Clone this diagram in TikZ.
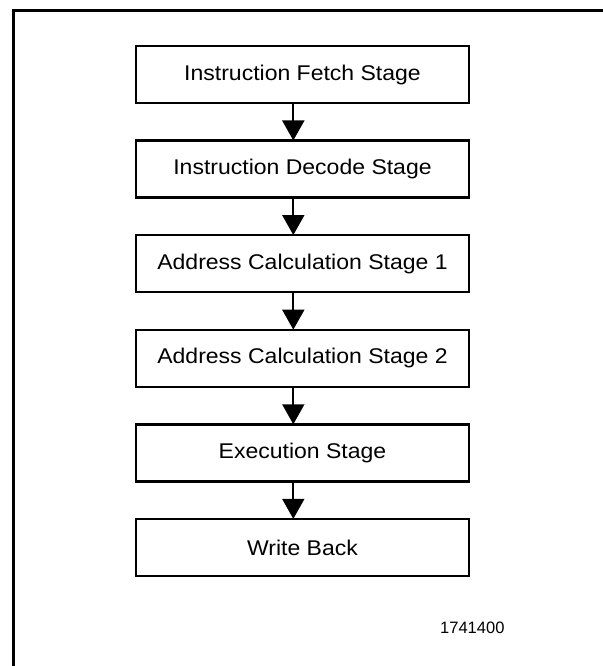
\documentclass[tikz,border=0pt]{standalone}
\usepackage{fontspec}
\setmainfont{Liberation Sans}
\newfontfamily\labfont[FakeStretch=1.08]{Liberation Sans}
\usetikzlibrary{arrows.meta}
\tikzset{
  stagebox/.style={draw=black, line width=2.3bp, minimum width=333bp, minimum height=57bp,
    inner sep=0pt, font=\labfont\fontsize{21.3bp}{24bp}\selectfont},
  flowarrow/.style={line width=2bp, -{Triangle[width=22bp,length=20bp]}, shorten >=-1bp},
  frameline/.style={line width=3bp, black}
}
\begin{document}
\begin{tikzpicture}[x=1bp,y=-1bp]
\useasboundingbox (0,0) rectangle (603,666);
\fill[white] (0,0) rectangle (603,666);
\coordinate (fbl) at (13.5,680);
\coordinate (ftl) at (13.5,10.7);
\coordinate (ftr) at (620,10.7);
\draw[frameline] (fbl) -- (ftl) -- (ftr);
\node[stagebox] (s1) at (302.5,74.5) {Instruction Fetch Stage};
\node[stagebox] (s2) at (302.5,169.1) {Instruction Decode Stage};
\node[stagebox] (s3) at (302.5,263.7) {Address Calculation Stage 1};
\node[stagebox] (s4) at (302.5,358.3) {Address Calculation Stage 2};
\node[stagebox] (s5) at (302.5,452.9) {Execution Stage};
\node[stagebox] (s6) at (302.5,547.5) {Write Back};
\foreach \a/\b in {s1/s2,s2/s3,s3/s4,s4/s5,s5/s6}{
  \draw[flowarrow] ([xshift=-9.2bp]\a.south) -- ([xshift=-9.2bp]\b.north);
}
\node[anchor=base west, inner sep=0pt, font=\fontsize{16.5bp}{18bp}\selectfont] (fig) at (440,633) {1741400};
\end{tikzpicture}
\end{document}
